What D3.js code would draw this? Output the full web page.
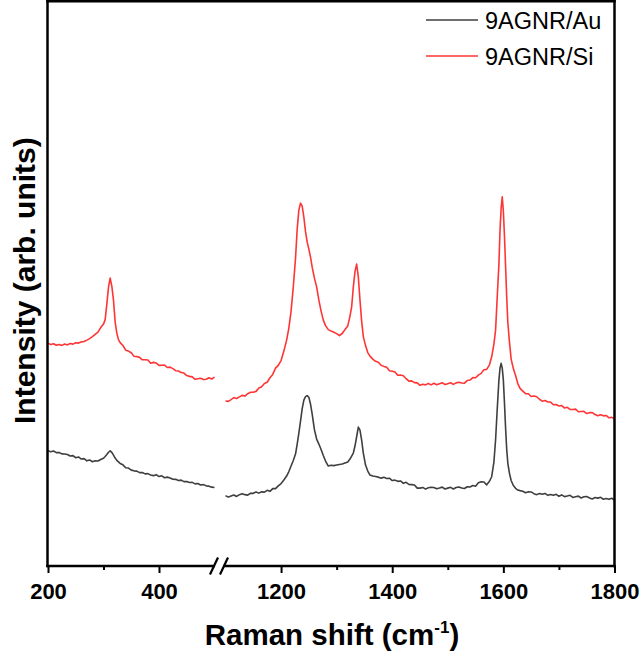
<!DOCTYPE html>
<html>
<head>
<meta charset="utf-8">
<script src="https://cdn.jsdelivr.net/npm/d3@7"></script>
<style>
  body { margin: 0; background: #fff; }
  svg { display: block; font-family: Arial, "Liberation Sans", sans-serif; }
</style>
</head>
<body>
<svg id="chart" width="640" height="660"></svg>
<script>
// Raman shift sampling (cm^-1) for the two windows of the broken axis
const lowShift = [
  200, 205, 210, 215, 220, 225, 230, 235, 240, 245,
  250, 255, 260, 265, 270, 275, 280, 285, 290, 295,
  300, 303, 306, 309, 312, 315, 318, 321, 324, 327,
  330, 335, 340, 345, 350, 355, 360, 365, 370, 375,
  380, 385, 390, 395, 400, 405, 410, 415, 420, 425,
  430, 435, 440, 445, 450, 455, 460, 465, 470, 475,
  480, 485, 490, 495, 500
];
const highShift = [
  1100, 1105, 1110, 1115, 1120, 1125, 1130, 1135, 1140, 1145,
  1150, 1155, 1160, 1165, 1170, 1175, 1180, 1185, 1190, 1195,
  1200, 1205, 1210, 1214, 1218, 1222, 1226, 1229, 1232, 1235,
  1238, 1241, 1244, 1247, 1250, 1253, 1256, 1260, 1264, 1268,
  1272, 1276, 1280, 1285, 1290, 1295, 1300, 1305, 1310, 1315,
  1320, 1324, 1327, 1330, 1333, 1336, 1339, 1342, 1345, 1348,
  1352, 1356, 1360, 1365, 1370,
  1375, 1380, 1385, 1390, 1395, 1400, 1405, 1410, 1415, 1420,
  1425, 1430, 1435, 1440, 1445, 1450, 1455, 1460, 1465, 1470,
  1475, 1480, 1485, 1490, 1495, 1500, 1505, 1510, 1515, 1520,
  1525, 1530, 1535, 1540, 1545, 1550, 1555, 1560, 1565, 1570,
  1575,
  1579, 1583, 1586, 1589, 1592, 1594, 1596, 1598, 1600, 1602,
  1604, 1606, 1608, 1611, 1614, 1618, 1622, 1626, 1630, 1635,
  1640, 1645, 1650, 1655, 1660, 1665, 1670, 1675, 1680, 1685,
  1690, 1695, 1700, 1705, 1710, 1715, 1720, 1725, 1730, 1735,
  1740, 1745, 1750, 1755, 1760, 1765, 1770, 1775, 1780, 1785,
  1790, 1795, 1800
];

// Intensity (arb. units), 9AGNR on Au
const auLow = [
  115.5, 114.2, 115.0, 113.4, 113.6, 112.2, 112.0, 111.6, 110.0, 110.4,
  108.3, 109.1, 107.0, 107.4, 105.2, 106.1, 104.3, 105.2, 105.0, 106.6,
  107.8, 109.6, 111.5, 113.8, 115.2, 113.6, 110.9, 108.0, 105.7, 104.2,
  102.5, 101.2, 98.3, 98.0, 95.9, 95.2, 94.9, 93.4, 93.6, 92.2,
  92.4, 91.1, 90.4, 91.4, 89.5, 90.2, 88.3, 88.9, 88.1, 86.8,
  86.7, 85.6, 85.9, 84.4, 84.6, 83.5, 83.7, 82.2, 82.6, 81.0,
  81.4, 80.2, 79.9, 78.9, 78.6
];
const auHigh = [
  70.4, 68.9, 70.1, 71.1, 69.6, 71.4, 72.4, 71.4, 70.9, 72.8,
  72.7, 74.1, 72.9, 74.2, 73.9, 75.7, 74.7, 77.4, 77.4, 80.2,
  82.5, 86.0, 90.0, 94.5, 100.0, 105.5, 112.0, 122.0, 133.0, 145.0,
  157.5, 166.0, 169.5, 170.5, 168.8, 162.0, 152.0, 136.5, 127.0, 122.0,
  116.5, 110.5, 105.0, 100.0, 100.8, 100.4, 101.0, 101.6, 102.0, 103.0,
  104.0, 107.0, 110.0, 113.0, 120.0, 129.3, 139.0, 136.0, 126.0, 113.0,
  101.0, 95.0, 91.0, 90.0, 89.6,
  88.9, 87.9, 88.7, 87.5, 87.8, 85.5, 85.9, 84.7, 85.1, 82.7,
  83.7, 81.7, 81.4, 81.1, 77.9, 77.9, 78.6, 76.9, 78.2, 78.7,
  78.6, 77.2, 78.0, 78.9, 77.0, 77.9, 78.7, 77.0, 78.5, 79.1,
  78.0, 77.5, 79.3, 79.0, 80.5, 79.8, 83.3, 84.2, 84.1, 81.2,
  84.8,
  89.3, 104.0, 126.0, 157.0, 186.0, 198.0, 202.7, 198.0, 186.0, 163.0,
  138.0, 117.0, 103.0, 92.7, 85.5, 80.5, 77.7, 76.0, 75.4, 74.8,
  73.3, 74.2, 74.1, 72.4, 71.4, 72.6, 71.8, 72.6, 70.7, 71.5,
  70.7, 71.7, 69.8, 71.1, 69.4, 70.0, 70.7, 68.6, 69.3, 69.9,
  68.0, 69.3, 69.6, 68.0, 67.1, 68.5, 67.9, 68.7, 66.8, 67.5,
  66.7, 67.8, 65.9
];

// Intensity (arb. units), 9AGNR on Si
const siLow = [
  223.0, 221.5, 222.4, 220.8, 221.6, 220.7, 222.1, 221.2, 222.6, 222.0,
  223.4, 223.0, 224.2, 224.6, 226.0, 227.5, 229.4, 231.8, 234.0, 238.5,
  242.0, 246.5, 262.0, 279.0, 288.0, 280.0, 266.0, 244.0, 233.0, 226.5,
  223.5, 220.6, 215.9, 215.0, 213.3, 209.9, 209.5, 208.7, 206.3, 206.3,
  206.1, 202.9, 203.7, 203.0, 200.7, 200.9, 201.0, 198.6, 199.0, 197.5,
  195.4, 195.1, 193.5, 193.0, 190.5, 189.7, 189.2, 186.8, 187.3, 187.8,
  186.5, 186.9, 188.4, 187.1, 189.0
];
const siHigh = [
  165.1, 164.7, 166.5, 168.4, 167.6, 169.2, 170.7, 170.0, 172.4, 173.9,
  173.9, 174.7, 178.0, 179.3, 182.5, 183.8, 188.3, 191.7, 197.9, 200.7,
  205.5, 215.0, 226.0, 238.0, 255.0, 279.3, 308.0, 337.0, 356.0, 363.0,
  360.0, 349.0, 334.5, 324.0, 317.0, 309.0, 299.0, 288.0, 279.3, 266.0,
  255.0, 246.0, 240.5, 236.5, 235.0, 233.8, 232.5, 230.5, 232.6, 236.5,
  240.0, 250.0, 259.3, 279.0, 294.5, 302.0, 289.3, 266.0, 245.0, 229.5,
  220.5, 213.5, 210.0, 207.0, 204.8,
  203.8, 200.9, 199.7, 198.8, 195.4, 194.9, 194.1, 190.8, 191.0, 190.4,
  187.4, 184.9, 185.2, 183.5, 183.2, 180.8, 181.8, 181.2, 182.6, 181.2,
  182.8, 181.4, 182.4, 183.4, 181.5, 182.4, 183.3, 181.7, 183.2, 183.9,
  183.1, 182.9, 185.5, 186.0, 188.5, 188.3, 190.9, 192.7, 196.4, 196.7,
  201.3,
  209.3, 222.0, 236.0, 269.3, 302.0, 336.0, 358.0, 369.3, 355.0, 330.0,
  300.0, 269.3, 244.0, 224.0, 207.0, 197.5, 190.5, 182.5, 177.7, 175.0,
  172.4, 172.3, 169.6, 170.0, 169.3, 166.8, 164.9, 165.5, 164.0, 164.0,
  161.3, 161.5, 160.1, 160.5, 158.0, 158.8, 156.6, 156.6, 156.9, 154.3,
  154.5, 154.7, 152.5, 153.4, 153.5, 151.6, 150.3, 151.3, 150.2, 150.6,
  148.3, 148.7, 147.4
];

const seriesNames = ["9AGNR/Au", "9AGNR/Si"];
const seriesColors = ["#3f3f3f", "#ff3535"];

const lowMajorTicks = [200, 400];
const lowMinorTicks = [300];
const highMajorTicks = [1200, 1400, 1600, 1800];
const highMinorTicks = [1300, 1500, 1700];

const xTitle = "Raman shift (cm";
const xTitleSup = "-1";
const yTitle = "Intensity (arb. units)";

// ---- layout ----
const svg = d3.select("#chart");
const frame = { left: 47.5, right: 614.5, top: 1.25, bottom: 566 };
const gapLeft = 214.5, gapRight = 225.5;

const xLow = d3.scaleLinear().domain([200, 500]).range([frame.left + 0.5, gapLeft]);
const xHigh = d3.scaleLinear().domain([1100, 1800]).range([gapRight, frame.right]);
const y = d3.scaleLinear().domain([0, 565]).range([frame.bottom, frame.top]);

// ---- spectra ----
const segments = [
  { x: xLow, shift: lowShift, values: [auLow, siLow] },
  { x: xHigh, shift: highShift, values: [auHigh, siHigh] }
];
const plot = svg.append("g");
segments.forEach(seg => {
  seg.values.forEach((vals, i) => {
    const pts = seg.shift.map((s, k) => [s, vals[k]]);
    plot.append("path")
      .datum(pts)
      .attr("fill", "none")
      .attr("stroke", seriesColors[i])
      .attr("stroke-width", 1.6)
      .attr("stroke-linejoin", "round")
      .attr("d", d3.line().x(d => seg.x(d[0])).y(d => y(d[1])));
  });
});

// ---- axes ----
function tickAxis(scale, values, size, labelled) {
  const ax = d3.axisBottom(scale).tickValues(values).tickSize(size).tickPadding(10)
    .tickFormat(labelled ? d3.format("d") : () => "");
  const g = svg.append("g").attr("transform", `translate(0,${frame.bottom})`).call(ax);
  g.select(".domain").remove();
  g.selectAll(".tick line").attr("stroke", "#000").attr("stroke-width", 2);
  g.selectAll(".tick text")
    .attr("fill", "#000")
    .style("font-family", "Arial, 'Liberation Sans', sans-serif")
    .style("font-size", "22px")
    .style("font-weight", "bold");
  return g;
}
tickAxis(xLow, lowMajorTicks, 7, true);
tickAxis(xLow, lowMinorTicks, 4, false);
tickAxis(xHigh, highMajorTicks, 7, true);
tickAxis(xHigh, highMinorTicks, 4, false);

// frame and broken bottom axis
function seg(x1, y1, x2, y2) {
  return svg.append("line")
    .attr("x1", x1).attr("y1", y1).attr("x2", x2).attr("y2", y2)
    .attr("stroke", "#000").attr("stroke-width", 2.5).attr("stroke-linecap", "square");
}
seg(frame.left, frame.top, frame.right, frame.top);
seg(frame.left, frame.top, frame.left, frame.bottom);
seg(frame.right, frame.top, frame.right, frame.bottom);
seg(frame.left, frame.bottom, gapLeft - 1, frame.bottom);
seg(gapRight - 1, frame.bottom, frame.right, frame.bottom);
// break marks
[gapLeft - 0.5, gapRight - 1.5].forEach(cx => {
  svg.append("line")
    .attr("x1", cx - 4).attr("y1", frame.bottom + 8.5)
    .attr("x2", cx + 4).attr("y2", frame.bottom - 8.5)
    .attr("stroke", "#000").attr("stroke-width", 2.2);
});

// ---- titles ----
const xt = svg.append("text")
  .attr("x", (frame.left + frame.right) / 2 + 1)
  .attr("y", 645)
  .attr("text-anchor", "middle")
  .style("font-size", "29.5px")
  .style("font-weight", "bold")
  .attr("fill", "#000");
xt.append("tspan").text(xTitle);
xt.append("tspan").text(xTitleSup).style("font-size", "17px").attr("dy", -12);
xt.append("tspan").text(")").attr("dy", 12);

svg.append("text")
  .attr("transform", `translate(35,${(frame.top + frame.bottom) / 2 - 3}) rotate(-90)`)
  .attr("text-anchor", "middle")
  .style("font-size", "30px")
  .style("font-weight", "bold")
  .attr("fill", "#000")
  .text(yTitle);

// ---- legend ----
const legend = svg.append("g");
seriesNames.forEach((name, i) => {
  const ly = 20 + i * 36;
  legend.append("line")
    .attr("x1", 426).attr("x2", 478).attr("y1", ly).attr("y2", ly)
    .attr("stroke", seriesColors[i]).attr("stroke-width", 1.6);
  legend.append("text")
    .attr("x", 485).attr("y", ly + 8.5)
    .style("font-size", "23.5px")
    .attr("fill", "#000")
    .text(name);
});
</script>
</body>
</html>
